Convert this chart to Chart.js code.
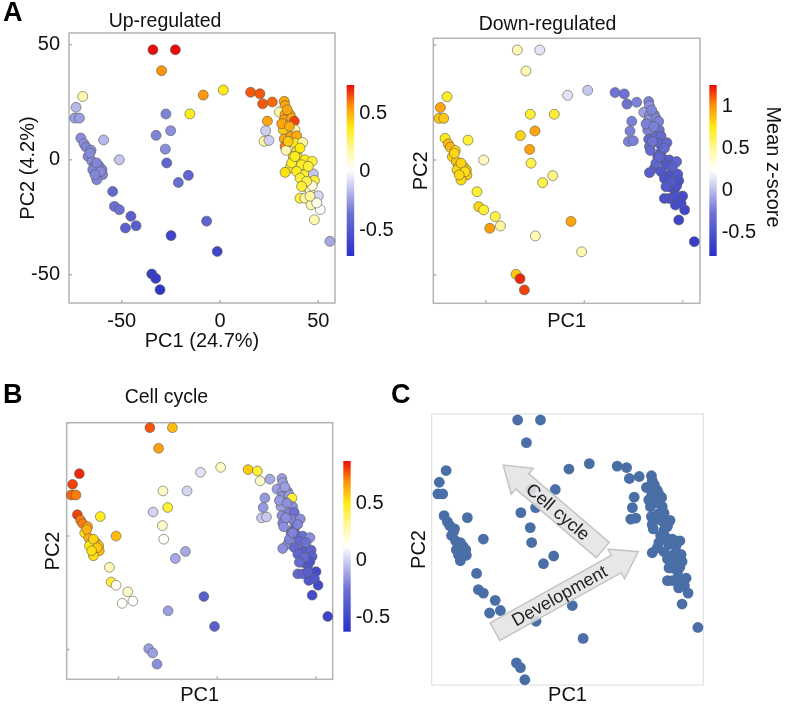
<!DOCTYPE html>
<html>
<head>
<meta charset="utf-8">
<script src="https://cdn.jsdelivr.net/npm/chart.js@4.4.0/dist/chart.umd.min.js"></script>
<style>
  body { margin: 0; background: #fff; width: 786px; height: 707px; position: relative; overflow: hidden;
         font-family: 'Liberation Sans', Arial, sans-serif; }
  canvas { position: absolute; }
  .panel-letter { position: absolute; font-weight: bold; font-size: 27px; line-height: 27px; color: #000; }
</style>
</head>
<body>
<canvas id="upChart"></canvas>
<canvas id="downChart"></canvas>
<canvas id="cycleChart"></canvas>
<canvas id="pcaChart"></canvas>
<div class="panel-letter" style="left:3px;top:-1px">A</div>
<div class="panel-letter" style="left:3px;top:381px">B</div>
<div class="panel-letter" style="left:391px;top:381px">C</div>
<script>
// Sample positions on PC1 / PC2 (same samples in every panel)
const pc1 = [
    -34.1, -22.7, -29.7, -8.5, 1.7, -27.5, -15.3, -32.5, -25.1, -27.8, -27.1, -16.1, -21.2, -6.8, -24.9, -1.4, -34.7, -32.7, -30.5,
    -69.8, -73.2, -73.9, -71.5, -70.8, -69.2, -68.1, -65.6, -67.1, -65.1, -63.9, -61.4, -60.0, -62.2, -64.7, -59.7, -62.7, -59.2, -51.2, -54.6, -53.7, -51.2, -45.3, -48.1, -42.7,
    -66.1, -62.7, -60.7, -63.6,
    15.6, 20.3, 21.7, 26.6, 32.7, 33.1, 30.2, 33.1, 35.6, 32.7, 36.4, 37.8, 24.1, 23.2, 22.4, 24.9, 32.2, 38.1, 32.7, 36.1,
    39.0, 33.1, 33.6, 38.1, 42.0, 39.0, 37.3, 39.8, 43.2, 41.5, 46.9, 35.6, 33.1, 39.0, 43.2, 40.7, 47.5, 48.0, 43.2, 45.8,
    46.9, 50.0, 40.7, 43.2, 46.3, 51.0, 48.0, 55.9,
    34.2, 31.4, 35.3, 34.7, 40.7, 36.4, 44.9, 44.1, 41.5, 45.8, 49.2, 38.1
];
const pc2 = [
    47.8, 47.8, 38.7, 28.1, 30.3, 19.9, 19.9, 10.6, 12.6, 4.6, -1.4, -6.8, -9.9, -26.7, -33.0, -39.9, -49.7, -51.6, -56.5,
    27.5, 22.8, 18.1, 18.1, 9.4, 7.0, 5.5, 4.1, 1.4, -0.7, -2.9, -2.9, -4.3, -5.8, -4.3, -6.5, -8.7, 8.6, 0.0, -13.8, -20.3, -21.7, -24.6, -29.7, -28.7,
    2.9, -1.4, -5.1, -6.5,
    29.3, 28.7, 24.3, 25.1, 25.4, 23.5, 20.7, 19.6, 19.6, 17.4, 18.1, 16.7, 16.8, 12.6, 8.0, 8.4, 13.0, 13.0, 9.0, 10.1,
    10.4, 5.8, 4.1, 7.2, 7.5, 3.6, 1.4, 0.7, 0.0, -2.2, -0.7, -3.6, -5.5, -5.1, -6.5, -8.0, -6.2, -9.0, -11.6, -13.0,
    -11.3, -15.7, -16.7, -16.7, -19.6, -21.7, -26.1, -35.5,
    21.7, 15.7, 14.5, 8.0, 5.1, -1.4, -2.9, -9.4, -11.6, -15.9, -18.8, 1.4
];

// Mean z-score of each gene set, per sample
const upScore = [
    0.74, 0.74, 0.56, 0.55, 0.38, -0.31, 0.36, -0.31, -0.28, -0.28, -0.43, -0.43, -0.38, -0.43, -0.60, -0.60, -0.65, -0.65, -0.69,
    0.16, -0.17, -0.24, -0.24, -0.28, -0.28, -0.30, -0.28, -0.30, -0.28, -0.30, -0.28, -0.30, -0.28, -0.30, -0.30, -0.30, -0.17, -0.14, -0.40, -0.36, -0.36, -0.46, -0.46, -0.46,
    -0.29, -0.30, -0.29, -0.30,
    0.64, 0.64, 0.64, 0.62, 0.52, 0.52, 0.19, 0.52, 0.51, 0.54, 0.51, 0.67, 0.52, -0.11, 0.19, -0.11, 0.45, 0.16, 0.52, 0.52,
    0.51, 0.59, 0.16, 0.38, 0.19, 0.38, 0.38, 0.36, 0.36, 0.36, 0.33, 0.35, 0.40, 0.36, 0.35, 0.33, -0.14, 0.33, 0.16, 0.16,
    0.08, -0.09, 0.33, 0.19, 0.16, 0.01, 0.16, -0.21,
    0.52, 0.52, 0.51, 0.45, 0.38, 0.36, 0.33, 0.30, 0.33, 0.19, 0.05, 0.36
];
const downScore = [
    0.44, 0.14, 0.44, 0.14, 0.04, 0.68, 0.68, 0.81, 0.95, 0.95, 0.64, 0.54, 0.64, 0.95, 0.44, 0.44, 0.85, 1.20, 1.15,
    0.70, 0.95, 0.85, 0.85, 0.75, 0.89, 0.89, 0.81, 0.81, 0.85, 0.75, 0.81, 0.85, 0.75, 0.81, 0.85, 0.79, 0.68, 0.40, 0.68, 0.81, 0.68, 0.64, 0.97, 0.50,
    0.80, 0.82, 0.78, 0.80,
    -0.27, -0.27, -0.27, -0.22, -0.22, -0.16, -0.10, -0.16, -0.20, -0.16, -0.20, -0.22, -0.22, -0.22, -0.22, -0.22, -0.22, -0.27, -0.33, -0.33,
    -0.33, -0.33, -0.33, -0.37, -0.33, -0.41, -0.41, -0.43, -0.43, -0.47, -0.37, -0.41, -0.41, -0.47, -0.51, -0.51, -0.47, -0.51, -0.53, -0.53,
    -0.53, -0.57, -0.53, -0.53, -0.57, -0.61, -0.61, -0.67,
    -0.20, -0.22, -0.22, -0.27, -0.33, -0.37, -0.41, -0.47, -0.47, -0.53, -0.57, -0.37
];
const cycleScore = [
    0.77, 0.60, 0.66, 0.05, 0.24, 0.24, 0.02, 0.01, 0.45, 0.24, 0.13, -0.10, -0.10, -0.35, -0.13, -0.35, -0.13, -0.13, -0.17,
    0.83, 0.80, 0.75, 0.72, 0.80, 0.72, 0.72, 0.65, 0.50, 0.62, 0.50, 0.60, 0.57, 0.47, 0.50, 0.60, 0.53, 0.48, 0.60, 0.27, 0.45, 0.15, 0.24, 0.13, 0.13,
    0.62, 0.55, 0.58, 0.52,
    0.57, 0.45, 0.23, -0.10, -0.13, -0.13, -0.13, -0.13, -0.17, -0.17, -0.14, 0.45, -0.14, -0.14, -0.02, -0.02, -0.13, -0.17, -0.17, -0.20,
    -0.25, -0.20, -0.17, -0.20, -0.17, -0.25, -0.25, -0.29, -0.25, -0.29, -0.17, -0.17, -0.17, -0.29, -0.35, -0.32, -0.32, -0.35, -0.35, -0.40,
    -0.40, -0.47, -0.29, -0.32, -0.40, -0.47, -0.47, -0.50,
    -0.13, -0.14, -0.17, -0.17, -0.20, -0.20, -0.25, -0.29, -0.29, -0.35, -0.40, -0.20
];

// Axis and colour bar ticks
const axisTicks = [-50, 0, 50];
const upBarTicks = [-0.5, 0, 0.5];
const downBarTicks = [-0.5, 0, 0.5, 1];
const cycleBarTicks = [-0.5, 0, 0.5];
const upRange = [-0.72, 0.74];
const downRange = [-0.78, 1.25];
const cycleRange = [-0.62, 0.87];

// Panel C arrows (PC1, PC2 of tail and head)
const arrowNames = ['Cell cycle', 'Development'];
const arrowTails = [[8.4, -4.4], [-45.4, -37.2]];
const arrowHeads = [[-41.3, 29.7], [26.1, -5.1]];

const FONT = "'Liberation Sans', Arial, sans-serif";
Chart.defaults.font.family = FONT;

// blue - white - yellow - red colour map
const cmap = [
    [0.0, [42, 48, 198]],
    [0.25, [108, 113, 212]],
    [0.5, [255, 255, 255]],
    [0.62, [255, 248, 165]],
    [0.75, [255, 236, 20]],
    [0.88, [255, 145, 10]],
    [1.0, [232, 12, 12]]
];

function colorAt(t) {
    t = Math.max(0, Math.min(1, t));
    for (let i = 1; i < cmap.length; i++) {
        if (t <= cmap[i][0]) {
            const [t0, c0] = cmap[i - 1];
            const [t1, c1] = cmap[i];
            const f = (t - t0) / (t1 - t0);
            const c = c0.map((v, k) => Math.round(v + (c1[k] - v) * f));
            return `rgb(${c[0]},${c[1]},${c[2]})`;
        }
    }
    return 'rgb(232,12,12)';
}

// Frame around plot area + small inward ticks
const framePlugin = {
    id: 'frame',
    beforeDatasetsDraw(chart, args, opts) {
        const { ctx, chartArea: a, scales } = chart;
        ctx.save();
        ctx.strokeStyle = opts.color;
        ctx.lineWidth = opts.width;
        ctx.strokeRect(a.left, a.top, a.right - a.left, a.bottom - a.top);
        if (opts.ticks) {
            ctx.beginPath();
            axisTicks.forEach(v => {
                const x = scales.x.getPixelForValue(v);
                ctx.moveTo(x, a.bottom); ctx.lineTo(x, a.bottom - 3);
                const y = scales.y.getPixelForValue(v);
                ctx.moveTo(a.left, y); ctx.lineTo(a.left + 3, y);
            });
            ctx.stroke();
        }
        ctx.restore();
    }
};

// Colour bar legend
const colorbarPlugin = {
    id: 'colorbar',
    afterDraw(chart, args, opts) {
        if (!opts.range) return;
        const { ctx } = chart;
        const { x, y, w, h, range, ticks } = opts;
        const grad = ctx.createLinearGradient(0, y + h, 0, y);
        cmap.forEach(([t]) => grad.addColorStop(t, colorAt(t)));
        ctx.save();
        ctx.fillStyle = grad;
        ctx.fillRect(x, y, w, h);
        ctx.fillStyle = '#111';
        ctx.font = `20px ${FONT}`;
        ctx.textAlign = 'left';
        ctx.textBaseline = 'middle';
        ticks.forEach(v => {
            const ty = y + h - (v - range[0]) / (range[1] - range[0]) * h;
            ctx.fillText(String(v), x + w + 5, ty);
        });
        if (opts.title) {
            ctx.translate(opts.titleX, opts.titleY);
            ctx.rotate(Math.PI / 2);
            ctx.textAlign = 'center';
            ctx.fillText(opts.title, 0, 0);
        }
        ctx.restore();
    }
};

// Direction arrows in panel C
const arrowPlugin = {
    id: 'arrows',
    afterDatasetsDraw(chart, args, opts) {
        if (!opts.show) return;
        const { ctx, scales } = chart;
        arrowNames.forEach((name, i) => {
            const x0 = scales.x.getPixelForValue(arrowTails[i][0]);
            const y0 = scales.y.getPixelForValue(arrowTails[i][1]);
            const x1 = scales.x.getPixelForValue(arrowHeads[i][0]);
            const y1 = scales.y.getPixelForValue(arrowHeads[i][1]);
            const ang = Math.atan2(y1 - y0, x1 - x0);
            const len = Math.hypot(x1 - x0, y1 - y0);
            const bw = 10, hw = 17, hl = 25;
            ctx.save();
            ctx.translate(x0, y0);
            ctx.rotate(ang);
            ctx.beginPath();
            ctx.moveTo(0, -bw);
            ctx.lineTo(len - hl, -bw);
            ctx.lineTo(len - hl, -hw);
            ctx.lineTo(len, 0);
            ctx.lineTo(len - hl, hw);
            ctx.lineTo(len - hl, bw);
            ctx.lineTo(0, bw);
            ctx.closePath();
            ctx.fillStyle = 'rgba(228,228,228,0.88)';
            ctx.fill();
            ctx.strokeStyle = '#c4c4c4';
            ctx.lineWidth = 1.5;
            ctx.stroke();
            ctx.restore();

            // label along the arrow body, kept upright
            let ta = ang;
            if (ta > Math.PI / 2) ta -= Math.PI;
            if (ta < -Math.PI / 2) ta += Math.PI;
            const f = 0.45;
            ctx.save();
            ctx.translate(x0 + (x1 - x0) * f, y0 + (y1 - y0) * f);
            ctx.rotate(ta);
            ctx.fillStyle = '#222';
            ctx.font = `18px ${FONT}`;
            ctx.textAlign = 'center';
            ctx.textBaseline = 'middle';
            ctx.fillText(name, 0, 1);
            ctx.restore();
        });
    }
};

function makePanel(id, p) {
    const canvas = document.getElementById(id);
    canvas.width = p.w;
    canvas.height = p.h;
    canvas.style.left = p.left + 'px';
    canvas.style.top = p.top + 'px';

    const points = pc1.map((x, i) => ({ x: x, y: pc2[i] }));
    const colors = p.scores
        ? p.scores.map(v => colorAt((v - p.range[0]) / (p.range[1] - p.range[0])))
        : '#4a6fa6';

    new Chart(canvas, {
        type: 'scatter',
        data: {
            datasets: [{
                data: points,
                backgroundColor: colors,
                borderColor: p.scores ? 'rgba(90,90,80,0.75)' : 'rgba(0,0,0,0)',
                borderWidth: p.scores ? 0.8 : 0,
                pointRadius: p.radius,
                clip: false
            }]
        },
        options: {
            responsive: false,
            animation: false,
            events: [],
            layout: { padding: { left: 0, right: p.w - p.area.r, top: p.title ? 0 : p.area.t, bottom: 0 } },
            plugins: {
                legend: { display: false },
                tooltip: { enabled: false },
                title: {
                    display: !!p.title,
                    text: p.title || '',
                    color: '#111',
                    font: { size: 19.5, weight: 'normal' },
                    padding: p.titlePad
                },
                frame: { color: p.frameColor, width: p.frameWidth, ticks: p.innerTicks },
                colorbar: p.bar || {},
                arrows: { show: !p.scores }
            },
            scales: {
                x: {
                    type: 'linear', min: p.xr[0], max: p.xr[1],
                    grid: { display: false, drawTicks: false },
                    border: { display: false },
                    afterBuildTicks: s => { s.ticks = axisTicks.map(v => ({ value: v })); },
                    afterFit: s => { s.height = p.h - p.area.b; },
                    ticks: { display: p.labels, color: '#111', font: { size: 20 }, padding: 6 },
                    title: { display: true, text: p.xTitle, color: '#111', font: { size: 20 }, padding: { top: 0, bottom: p.xTitlePad } }
                },
                y: {
                    type: 'linear', min: p.yr[0], max: p.yr[1],
                    grid: { display: false, drawTicks: false },
                    border: { display: false },
                    afterBuildTicks: s => { s.ticks = axisTicks.map(v => ({ value: v })); },
                    afterFit: s => { s.width = p.area.l; },
                    ticks: { display: p.labels, color: '#111', font: { size: 20 }, padding: 9 },
                    title: { display: true, text: p.yTitle, color: '#111', font: { size: 20 }, padding: { top: p.yTitlePad, bottom: 0 } }
                }
            }
        },
        plugins: [framePlugin, colorbarPlugin, arrowPlugin]
    });
}

makePanel('upChart', {
    left: -5, top: 0, w: 402, h: 360, area: { l: 74, r: 340, t: 33, b: 303 },
    xr: [-76.8, 58.5], yr: [-62.3, 55.1],
    title: 'Up-regulated', titlePad: { top: 9.6, bottom: 0 },
    xTitle: 'PC1 (24.7%)', xTitlePad: 7, yTitle: 'PC2 (4.2%)', yTitlePad: 21,
    labels: true, innerTicks: true, frameColor: '#b4b4b4', frameWidth: 1.5, radius: 5,
    scores: upScore, range: upRange,
    bar: { x: 351.7, y: 85, w: 7.5, h: 171, range: upRange, ticks: upBarTicks }
});

makePanel('downChart', {
    left: 395, top: 0, w: 391, h: 340, area: { l: 38.3, r: 305, t: 38.3, b: 303.3 },
    xr: [-76.8, 58.8], yr: [-62.3, 52.9],
    title: 'Down-regulated', titlePad: { top: 13.3, bottom: 1.6 },
    xTitle: 'PC1', xTitlePad: 7, yTitle: 'PC2', yTitlePad: 14.7,
    labels: false, innerTicks: true, frameColor: '#b4b4b4', frameWidth: 1.5, radius: 5,
    scores: downScore, range: downRange,
    bar: { x: 314.3, y: 85, w: 7.4, h: 171, range: downRange, ticks: downBarTicks,
           title: 'Mean z-score', titleX: 378, titleY: 167 }
});

makePanel('cycleChart', {
    left: 0, top: 370, w: 395, h: 337, area: { l: 66.7, r: 332.7, t: 52.7, b: 309.3 },
    xr: [-76.2, 58.4], yr: [-63.2, 50.0],
    title: 'Cell cycle', titlePad: { top: 16.3, bottom: 13 },
    xTitle: 'PC1', xTitlePad: 0, yTitle: 'PC2', yTitlePad: 41,
    labels: false, innerTicks: true, frameColor: '#b4b4b4', frameWidth: 1.5, radius: 4.9,
    scores: cycleScore, range: cycleRange,
    bar: { x: 343.3, y: 91, w: 7.4, h: 170.7, range: cycleRange, ticks: cycleBarTicks }
});

makePanel('pcaChart', {
    left: 400, top: 370, w: 386, h: 337, area: { l: 31.7, r: 303.3, t: 44, b: 315 },
    xr: [-77, 58.6], yr: [-58.6, 50.2],
    title: null,
    xTitle: 'PC1', xTitlePad: 0, yTitle: 'PC2', yTitlePad: 7,
    labels: false, innerTicks: false, frameColor: '#dcdcdc', frameWidth: 1, radius: 5.4,
    scores: null
});
</script>
</body>
</html>
